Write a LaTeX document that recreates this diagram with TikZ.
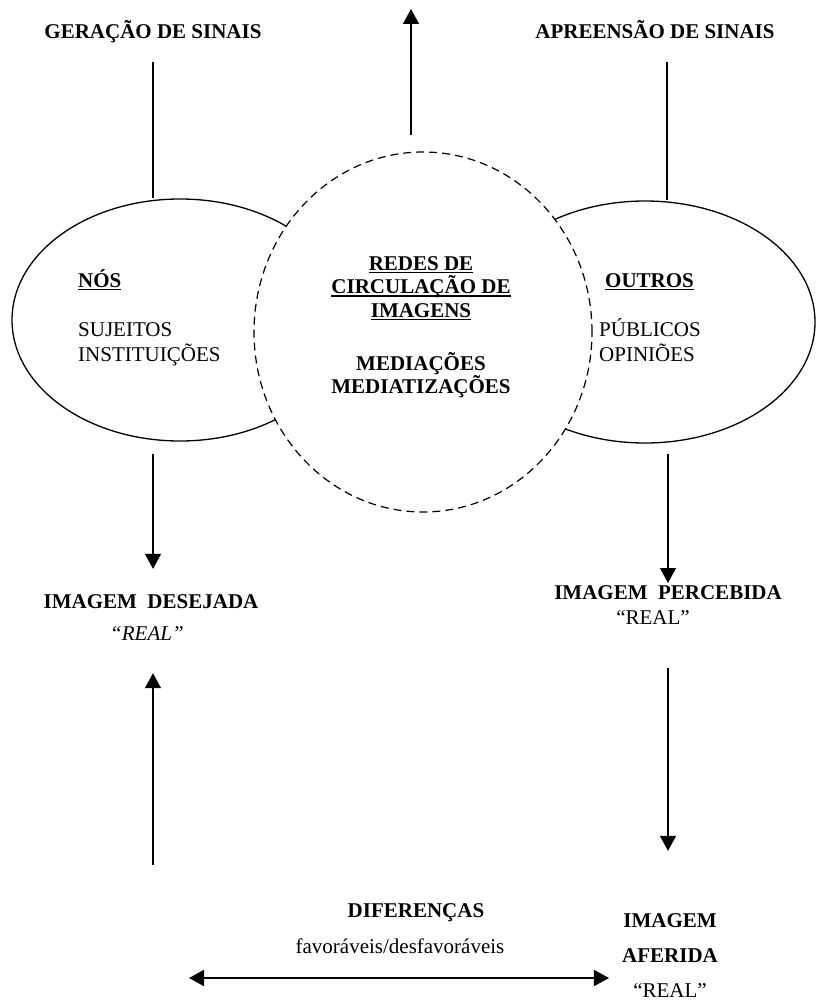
\documentclass[tikz,border=0pt]{standalone}
\usepackage{fontspec}
\setmainfont{Liberation Serif}
\usepackage{tikz}
\usetikzlibrary{arrows.meta, positioning, shapes.geometric, calc}

\newsavebox\sublbox
\newcommand{\sublinha}[1]{\sbox\sublbox{#1}\rlap{\rule[-3pt]{\wd\sublbox}{1.1pt}}\usebox\sublbox}

\begin{document}
\begin{tikzpicture}[x=1pt, y=-1pt,
    txt/.style={inner sep=0pt, font=\fontsize{21}{25}\selectfont},
    tit/.style={inner sep=0pt, font=\fontsize{21}{24}\selectfont\bfseries},
    linha/.style={line width=1.3pt},
    seta/.style={-{Triangle[length=15pt,width=16pt]}, line width=1.3pt},
    dupla/.style={{Triangle[length=15pt,width=16pt]}-{Triangle[length=15pt,width=16pt]}, line width=1.6pt},
    bolha/.style={ellipse, draw, line width=1.3pt, inner sep=0pt}]
    \useasboundingbox (0,0) rectangle (819,1003);

    % titulos de cima
    \node[tit, anchor=base] (gera) at (153,39) {GERAÇÃO DE SINAIS};
    \node[tit, anchor=base] (apre) at (655,39) {APREENSÃO DE SINAIS};

    % elipses e rede central
    \node[bolha, minimum width=336pt, minimum height=242pt] (nos) at (180,320) {};
    \node[bolha, minimum width=340pt, minimum height=242pt] (outros) at (645,322) {};
    \node[ellipse, draw, fill=white, line width=1.2pt, dash pattern=on 8pt off 5pt,
          minimum width=338pt, minimum height=360pt] (redes) at (423,332) {};

    % (base = linha de baixo)
    \node[tit, anchor=base west] (nostit) at (78,287) {\sublinha{NÓS}};
    \node[txt, anchor=base west, align=left] (nostxt) at (78,361) {SUJEITOS\\INSTITUIÇÕES};
    \node[tit, anchor=base, align=center, font=\fontsize{21}{23.5}\selectfont\bfseries] (redestit) at (421,317)
        {\sublinha{REDES DE}\\\sublinha{CIRCULAÇÃO DE}\\\sublinha{IMAGENS}};
    \node[tit, anchor=base, align=center, font=\fontsize{21}{23}\selectfont\bfseries] (medi) at (421,393)
        {MEDIAÇÕES\\MEDIATIZAÇÕES};
    \node[tit, anchor=base west] (outtit) at (605,287) {\sublinha{OUTROS}};
    \node[txt, anchor=base west, align=left] (outtxt) at (599,361) {PÚBLICOS\\OPINIÕES};

    % imagens
    \node[tit, anchor=base] (desej) at (151,608) {IMAGEM~~DESEJADA};
    \node[txt, anchor=base, font=\fontsize{21}{25}\selectfont\itshape] (desreal) at (147,640) {“REAL”};
    \node[tit, anchor=base] (perceb) at (668,599) {IMAGEM~~PERCEBIDA};
    \node[txt, anchor=base] (percreal) at (653,624) {“REAL”};
    \node[tit, anchor=base] (dif) at (416,917) {DIFERENÇAS};
    \node[txt, anchor=base] (favor) at (400,953) {favoráveis/desfavoráveis};
    \node[txt, anchor=base, align=center, font=\fontsize{21}{35}\selectfont] (aferida) at (670,997)
        {\textbf{IMAGEM}\\\textbf{AFERIDA}\\“REAL”};

    % ligacoes
    \coordinate (topo) at (411,9);
    \coordinate (aprelinha) at ($(apre.base)+(12,0)$);
    \coordinate (baseesq) at (153,865);
    \coordinate (difesq) at (189,978);
    \draw[seta, shorten <=16pt] (redes.north -| topo) -- (topo);
    \draw[linha, shorten <=23pt] (gera.base) -- (gera.base |- nos.north);
    \draw[linha, shorten <=23pt] (aprelinha) -- (aprelinha |- outros.north);
    \draw[seta, shorten <=12pt, shorten >=25pt] (nos.south -| gera.base) -- (gera.base |- desej.north);
    \draw[seta, shorten <=10pt, shorten >=16pt] (outros.south -| perceb.base) -- (perceb.base);
    \draw[seta, shorten >=33pt] (baseesq) -- (baseesq |- desreal.south);
    \draw[seta, shorten <=44pt, shorten >=62pt] (perceb.base |- percreal.south) -- (perceb.base |- aferida.north);
    \draw[dupla, shorten >=13pt] (difesq) -- (difesq -| aferida.west);
\end{tikzpicture}
\end{document}
